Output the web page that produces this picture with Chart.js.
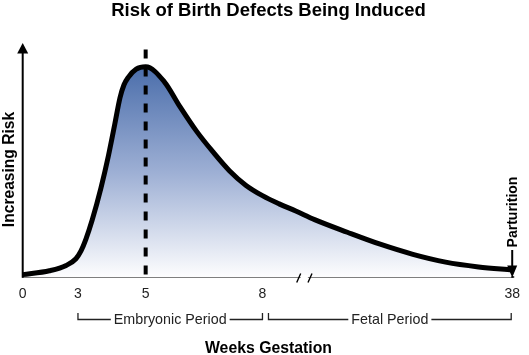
<!DOCTYPE html>
<html>
<head>
<meta charset="utf-8">
<script src="https://cdn.jsdelivr.net/npm/chart.js@4/dist/chart.umd.min.js"></script>
<style>
html,body{margin:0;padding:0;background:#fff;}
#wrap{width:529px;height:355px;position:relative;}
canvas{display:block;}
</style>
</head>
<body>
<div id="wrap"><canvas id="c" width="529" height="355"></canvas></div>
<script>
// ---- data ----
const titleText = 'Risk of Birth Defects Being Induced';
const yAxisLabel = 'Increasing Risk';
const xAxisLabel = 'Weeks Gestation';
const eventLabel = 'Parturition';
const eventWeek = 38;
const tickWeeks = [0, 3, 5, 8, 38];
const tickLabels = ['0', '3', '5', '8', '38'];
const periodNames = ['Embryonic Period', 'Fetal Period'];
const periodStart = [3, 8];
const periodEnd = [8, 38];
const peakWeek = 5;
const curveWeeks = [0, 1.45, 2.36, 2.89, 3.09, 3.23, 3.42, 3.68, 3.9, 4.09, 4.24, 4.36, 4.48, 4.72, 5, 5.48, 5.88, 6.31, 6.73, 7.15, 7.57, 8, 10, 12, 14.26, 18.19, 22.14, 26.07, 30, 33.95, 38];
const curveRisk  = [1.14, 3.0, 5.5, 8.7, 12.4, 17.8, 27.1, 42.4, 57.7, 72.9, 85.2, 91.5, 94.9, 98.9, 100, 92.9, 81.1, 69.3, 59.5, 50.6, 43.7, 38.7, 34.8, 31.4, 27.3, 21.3, 15.6, 10.8, 7.1, 4.8, 3.3];
const riskMax = 106.6;
const markerTop = 109.8;

// ---- broken (piecewise) week axis ----
const anchorWeeks = [0, 3, 5, 8, 38];
const anchorFrac = [0, 0.1129, 0.2512, 0.4898, 1];
function weekToFrac(v) {
  for (let i = 0; i < anchorWeeks.length - 1; i++) {
    const a = anchorWeeks[i], b = anchorWeeks[i + 1];
    if (v <= b || i === anchorWeeks.length - 2) {
      return anchorFrac[i] + (v - a) / (b - a) * (anchorFrac[i + 1] - anchorFrac[i]);
    }
  }
  return 1;
}
function fracToWeek(f) {
  for (let i = 0; i < anchorFrac.length - 1; i++) {
    const a = anchorFrac[i], b = anchorFrac[i + 1];
    if (f <= b || i === anchorFrac.length - 2) {
      return anchorWeeks[i] + (f - a) / (b - a) * (anchorWeeks[i + 1] - anchorWeeks[i]);
    }
  }
  return anchorWeeks[anchorWeeks.length - 1];
}
class BrokenWeekScale extends Chart.LinearScale {
  getPixelForValue(value) {
    if (value === null || value === undefined || isNaN(value)) return NaN;
    return this.getPixelForDecimal(weekToFrac(value));
  }
  getValueForPixel(pixel) {
    return fracToWeek(this.getDecimalForPixel(pixel));
  }
}
BrokenWeekScale.id = 'brokenWeek';
BrokenWeekScale.defaults = Chart.LinearScale.defaults;
Chart.register(BrokenWeekScale);

const FONT = '"Liberation Sans", Arial, Helvetica, sans-serif';

const decor = {
  id: 'decor',
  afterDraw(chart) {
    const ctx = chart.ctx;
    const xs = chart.scales.x;
    const ca = chart.chartArea;
    ctx.save();
    ctx.fillStyle = '#000';
    ctx.strokeStyle = '#000';

    // title
    ctx.font = 'bold 18.5px ' + FONT;
    ctx.textAlign = 'center';
    ctx.textBaseline = 'alphabetic';
    ctx.fillText(titleText, 268.5, 15.5);

    // y axis with arrow
    const lx = ca.left;
    ctx.lineWidth = 2;
    ctx.beginPath(); ctx.moveTo(lx, ca.bottom + 0.75); ctx.lineTo(lx, 52); ctx.stroke();
    ctx.beginPath(); ctx.moveTo(lx, 43); ctx.lineTo(lx - 5.5, 53.5); ctx.lineTo(lx + 5.5, 53.5); ctx.closePath(); ctx.fill();

    // y label
    ctx.save();
    ctx.translate(13.5, 169.5);
    ctx.rotate(-Math.PI / 2);
    ctx.font = 'bold 15.6px ' + FONT;
    ctx.textAlign = 'center';
    ctx.textBaseline = 'alphabetic';
    ctx.fillText(yAxisLabel, 0, 0);
    ctx.restore();

    // extend x axis a little past the end
    ctx.lineWidth = 1.5;
    ctx.beginPath(); ctx.moveTo(ca.right - 1, ca.bottom); ctx.lineTo(ca.right + 2, ca.bottom); ctx.stroke();

    // axis break
    const bx = 304.3;
    ctx.fillStyle = '#fff';
    ctx.fillRect(bx - 3.6, ca.bottom - 2, 7.2, 4);
    ctx.lineWidth = 1.4;
    ctx.beginPath();
    ctx.moveTo(bx - 7.6, ca.bottom + 5.5); ctx.lineTo(bx - 3.6, ca.bottom - 3.5);
    ctx.moveTo(bx + 3.7, ca.bottom + 5.5); ctx.lineTo(bx + 7.7, ca.bottom - 3.5);
    ctx.stroke();
    ctx.fillStyle = '#000';

    // parturition label + arrow
    const px = xs.getPixelForValue(eventWeek);
    ctx.save();
    ctx.translate(px + 5, 212);
    ctx.rotate(-Math.PI / 2);
    ctx.font = 'bold 14px ' + FONT;
    ctx.textAlign = 'center';
    ctx.textBaseline = 'alphabetic';
    ctx.fillText(eventLabel, 0, 0);
    ctx.restore();
    ctx.lineWidth = 2;
    ctx.beginPath(); ctx.moveTo(px, 250); ctx.lineTo(px, 267); ctx.stroke();
    ctx.beginPath(); ctx.moveTo(px, 277.5); ctx.lineTo(px - 5, 265.5); ctx.lineTo(px + 5, 265.5); ctx.closePath(); ctx.fill();

    // period brackets
    ctx.font = '14.3px ' + FONT;
    ctx.textAlign = 'center';
    ctx.textBaseline = 'alphabetic';
    ctx.strokeStyle = '#222';
    ctx.fillStyle = '#222';
    ctx.lineWidth = 1.3;
    for (let i = 0; i < periodNames.length; i++) {
      let x0 = xs.getPixelForValue(periodStart[i]);
      let x1 = xs.getPixelForValue(periodEnd[i]);
      if (i > 0) x0 += 6;
      if (i === periodNames.length - 1) x1 -= 1;
      const cx = (x0 + x1) / 2;
      const tw = ctx.measureText(periodNames[i]).width;
      const ly = 319.5;
      ctx.beginPath();
      ctx.moveTo(x0, 313); ctx.lineTo(x0, ly); ctx.lineTo(cx - tw / 2 - 3, ly);
      ctx.moveTo(cx + tw / 2 + 3, ly); ctx.lineTo(x1, ly); ctx.lineTo(x1, 313);
      ctx.stroke();
      ctx.fillText(periodNames[i], cx, 323.8);
    }

    // x axis title
    ctx.fillStyle = '#000';
    ctx.font = 'bold 15.8px ' + FONT;
    ctx.fillText(xAxisLabel, 268.5, 352.8);
    ctx.restore();
  }
};

new Chart(document.getElementById('c'), {
  type: 'line',
  data: {
    datasets: [
      {
        label: 'peak',
        data: [{ x: peakWeek, y: 0 }, { x: peakWeek, y: markerTop }],
        borderColor: '#000',
        borderWidth: 4,
        borderDash: [9, 9],
        borderDashOffset: 15.5,
        borderCapStyle: 'butt',
        pointRadius: 0,
        fill: false,
        clip: false,
        tension: 0
      },
      {
        label: 'risk',
        data: curveWeeks.map((w, i) => ({ x: w, y: curveRisk[i] })),
        borderColor: '#000',
        borderWidth: 5,
        borderCapStyle: 'butt',
        borderJoinStyle: 'round',
        cubicInterpolationMode: 'monotone',
        pointRadius: 0,
        clip: false,
        fill: 'origin',
        backgroundColor(ctx) {
          const chart = ctx.chart;
          const ca = chart.chartArea;
          if (!ca) return 'rgba(0,0,0,0)';
          const top = chart.scales.y.getPixelForValue(100);
          const g = chart.ctx.createLinearGradient(0, top, 0, ca.bottom);
          g.addColorStop(0, '#4b6eab');
          g.addColorStop(0.5, '#9dafd4');
          g.addColorStop(1, '#fdfdfe');
          return g;
        }
      }
    ]
  },
  options: {
    responsive: false,
    devicePixelRatio: 1,
    animation: false,
    events: [],
    layout: { padding: { left: 22.7, right: 7.5, top: 53, bottom: 43.2 } },
    plugins: { legend: { display: false }, tooltip: { enabled: false }, title: { display: false } },
    scales: {
      x: {
        type: 'brokenWeek',
        min: 0,
        max: 38,
        grid: { display: false, drawTicks: false },
        border: { display: true, color: '#000', width: 1.5 },
        ticks: {
          autoSkip: false,
          maxRotation: 0,
          padding: 9,
          color: '#222',
          font: { family: FONT, size: 14 },
          callback: (v, i) => tickLabels[i]
        },
        afterBuildTicks: s => { s.ticks = tickWeeks.map(v => ({ value: v })); }
      },
      y: {
        type: 'linear',
        display: false,
        min: 0,
        max: riskMax
      }
    }
  },
  plugins: [decor]
});
</script>
</body>
</html>
